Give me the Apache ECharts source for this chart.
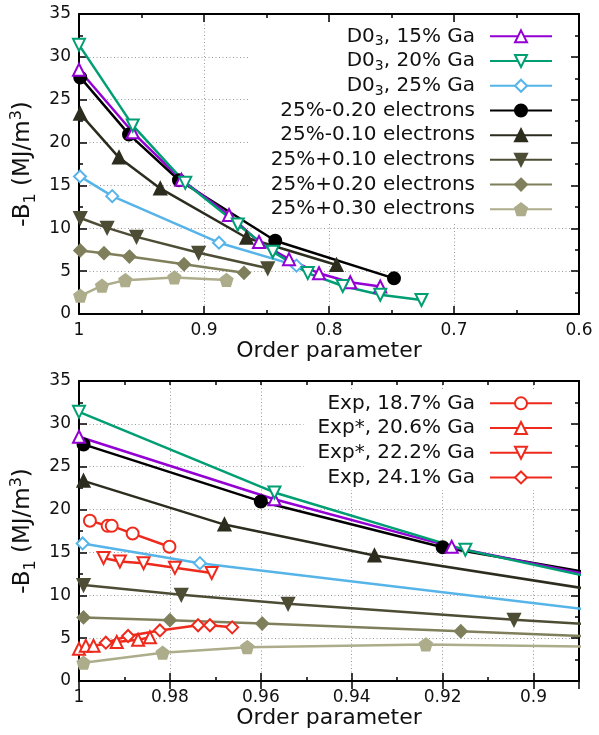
<!DOCTYPE html>
<html>
<head>
<meta charset="utf-8">
<script src="https://cdn.jsdelivr.net/npm/echarts@6/dist/echarts.min.js"></script>
<style>html,body{margin:0;padding:0;background:#fff}#c{width:599px;height:735px}</style>
</head>
<body>
<div id="c"></div>
<script>
// ---------- data ----------
const d15x = [1.0, 0.957, 0.918, 0.880, 0.856, 0.832, 0.808, 0.783, 0.759];
const d15y = [28.5, 21.2, 15.65, 11.55, 8.4, 6.4, 4.75, 3.7, 3.2];
const d20x = [1.0, 0.957, 0.915, 0.873, 0.845, 0.817, 0.789, 0.759, 0.726];
const d20y = [31.4, 22.0, 15.3, 10.45, 7.27, 4.77, 3.27, 2.25, 1.63];
const d25x = [0.9992, 0.9734, 0.888, 0.826];
const d25y = [16.05, 13.75, 8.32, 5.64];
const m20x = [0.999, 0.960, 0.920, 0.843, 0.748];
const m20y = [27.6, 20.95, 15.6, 8.55, 4.16];
const m10x = [0.999, 0.968, 0.935, 0.866, 0.794];
const m10y = [23.35, 18.25, 14.65, 8.9, 5.72];
const p10x = [0.999, 0.9775, 0.954, 0.9043, 0.849];
const p10y = [11.2, 10.05, 9.0, 7.15, 5.33];
const p20x = [0.999, 0.980, 0.9597, 0.916, 0.868];
const p20y = [7.42, 7.1, 6.7, 5.8, 4.8];
const p30x = [0.999, 0.9816, 0.963, 0.9237, 0.882];
const p30y = [2.12, 3.3, 3.95, 4.27, 3.97];
const e187x = [0.9976, 0.9937, 0.9928, 0.9882, 0.9801];
const e187y = [18.7, 18.1, 18.1, 17.2, 15.66];
const e206x = [1.0, 0.9985, 0.9968, 0.9917, 0.987, 0.9844];
const e206y = [3.75, 4.1, 4.1, 4.55, 4.8, 5.1];
const e222x = [0.9946, 0.991, 0.9858, 0.9789, 0.9708];
const e222y = [14.35, 13.95, 13.75, 13.2, 12.6];
const e241x = [0.9941, 0.9892, 0.9822, 0.9738, 0.9712, 0.9663];
const e241y = [4.47, 5.25, 5.9, 6.5, 6.5, 6.26];

const topLegendNames = ['D03, 15% Ga', 'D03, 20% Ga', 'D03, 25% Ga', '25%-0.20 electrons',
  '25%-0.10 electrons', '25%+0.10 electrons', '25%+0.20 electrons', '25%+0.30 electrons'];
const botLegendNames = ['Exp, 18.7% Ga', 'Exp*, 20.6% Ga', 'Exp*, 22.2% Ga', 'Exp, 24.1% Ga'];

// ---------- styles ----------
const FONT = 'DejaVu Sans';
const PENT = 'path://M0,-10 L9.51,-3.09 L5.88,8.09 L-5.88,8.09 L-9.51,-3.09 Z';
const RED = '#ee2a1c';
const styles = {
  'D03, 15% Ga': {color: '#9400d3', symbol: 'emptyTriangle', rot: 0},
  'D03, 20% Ga': {color: '#009e73', symbol: 'emptyTriangle', rot: 180},
  'D03, 25% Ga': {color: '#56b4e9', symbol: 'emptyDiamond', rot: 0},
  '25%-0.20 electrons': {color: '#000000', symbol: 'circle', rot: 0},
  '25%-0.10 electrons': {color: '#2d2d1f', symbol: 'triangle', rot: 0},
  '25%+0.10 electrons': {color: '#4d4d35', symbol: 'triangle', rot: 180},
  '25%+0.20 electrons': {color: '#7f7f5c', symbol: 'diamond', rot: 0},
  '25%+0.30 electrons': {color: '#adad8c', symbol: PENT, rot: 0},
  'Exp, 18.7% Ga': {color: RED, symbol: 'emptyCircle', rot: 0},
  'Exp*, 20.6% Ga': {color: RED, symbol: 'emptyTriangle', rot: 0},
  'Exp*, 22.2% Ga': {color: RED, symbol: 'emptyTriangle', rot: 180},
  'Exp, 24.1% Ga': {color: RED, symbol: 'emptyDiamond', rot: 0}
};

function mk(name, xs, ys, g) {
  const s = styles[name];
  return {
    type: 'line', name: name,
    xAxisIndex: g === 0 ? 0 : 2, yAxisIndex: g === 0 ? 0 : 2,
    data: xs.map((x, i) => [x, ys[i]]),
    symbol: s.symbol, symbolRotate: s.rot, symbolSize: 12,
    lineStyle: {color: s.color, width: 2.5},
    itemStyle: {color: s.color, borderColor: s.color, borderWidth: 2},
    clip: true, animation: false, z: 2
  };
}

const topSets = [
  ['25%-0.20 electrons', m20x, m20y], ['25%-0.10 electrons', m10x, m10y],
  ['25%+0.10 electrons', p10x, p10y], ['25%+0.20 electrons', p20x, p20y],
  ['25%+0.30 electrons', p30x, p30y],
  ['D03, 25% Ga', d25x, d25y], ['D03, 15% Ga', d15x, d15y], ['D03, 20% Ga', d20x, d20y]
];
const expSets = [
  ['Exp, 18.7% Ga', e187x, e187y], ['Exp*, 20.6% Ga', e206x, e206y],
  ['Exp*, 22.2% Ga', e222x, e222y], ['Exp, 24.1% Ga', e241x, e241y]
];
const series = [];
topSets.forEach(s => series.push(mk(s[0], s[1], s[2], 0)));
topSets.forEach(s => series.push(mk(s[0], s[1], s[2], 1)));
expSets.forEach(s => series.push(mk(s[0], s[1], s[2], 1)));

const black = '#000';
const splitDots = {show: true, lineStyle: {color: '#9a9a9a', width: 1, type: [1, 2.5]}};
const labelStyle = {color: '#111', fontFamily: FONT, fontSize: 17};
const nameStyle = {color: '#111', fontFamily: FONT, fontSize: 22};
function frameLine(show) { return {show: show, onZero: false, lineStyle: {color: black, width: 2}}; }
function ticks(len, show) { return {show: show !== false, inside: true, length: len, lineStyle: {color: black, width: 1.5}}; }
const minor = {show: true, splitNumber: 2, length: 4, lineStyle: {color: black, width: 1.5}};

const xAxes = [
  {gridIndex: 0, type: 'value', position: 'bottom', inverse: true, min: 0.6, max: 1, interval: 0.1,
   axisLine: frameLine(true), axisTick: ticks(8), minorTick: minor,
   axisLabel: Object.assign({margin: 8}, labelStyle), splitLine: splitDots,
   name: 'Order parameter', nameLocation: 'middle', nameGap: 17, nameTextStyle: nameStyle},
  {gridIndex: 0, type: 'value', position: 'top', inverse: true, min: 0.6, max: 1, interval: 0.1,
   axisLine: frameLine(true), axisTick: ticks(8), minorTick: minor,
   axisLabel: {show: false}, splitLine: {show: false}},
  {gridIndex: 1, type: 'value', position: 'bottom', inverse: true, min: 0.89, max: 1, interval: 0.01,
   axisLine: frameLine(true), axisTick: ticks(4),
   axisLabel: Object.assign({margin: 8, formatter: function (v) {
     const k = Math.round(v * 100);
     if (k % 2 !== 0) return '';
     return String(+v.toFixed(2));
   }}, labelStyle),
   splitLine: {show: false},
   name: 'Order parameter', nameLocation: 'middle', nameGap: 17, nameTextStyle: nameStyle},
  {gridIndex: 1, type: 'value', position: 'bottom', inverse: true, min: 0.89, max: 1, splitNumber: 5,
   axisLine: {show: false}, axisTick: ticks(8), axisLabel: {show: false}, splitLine: splitDots},
  {gridIndex: 1, type: 'value', position: 'top', inverse: true, min: 0.89, max: 1, interval: 0.01,
   axisLine: frameLine(true), axisTick: ticks(4), axisLabel: {show: false}, splitLine: {show: false}},
  {gridIndex: 1, type: 'value', position: 'top', inverse: true, min: 0.89, max: 1, splitNumber: 5,
   axisLine: {show: false}, axisTick: ticks(8), axisLabel: {show: false}, splitLine: {show: false}}
];

const yName = '-B{sub|1} (MJ/m{sup|3})';
const yNameStyle = {color: '#111', fontFamily: FONT, fontSize: 23, lineHeight: 30, rich: {
  sub: {fontFamily: FONT, fontSize: 16, verticalAlign: 'bottom', lineHeight: 30, color: '#111'},
  sup: {fontFamily: FONT, fontSize: 16, verticalAlign: 'top', lineHeight: 30, color: '#111'}
}};
function yMain(g) {
  return {gridIndex: g, type: 'value', position: 'left', min: 0, max: 35, interval: 5,
    axisLine: frameLine(true), axisTick: ticks(8), minorTick: minor,
    axisLabel: Object.assign({margin: 8}, labelStyle), splitLine: splitDots,
    name: yName, nameLocation: 'middle', nameGap: 36, nameTextStyle: yNameStyle};
}
function yMirror(g) {
  return {gridIndex: g, type: 'value', position: 'right', min: 0, max: 35, interval: 5,
    axisLine: frameLine(true), axisTick: ticks(8), minorTick: minor,
    axisLabel: {show: false}, splitLine: {show: false}};
}

const legendRich = {
  sub: {fontFamily: FONT, fontSize: 14, verticalAlign: 'bottom', lineHeight: 24.7, color: '#111'},
  n: {fontFamily: FONT, fontSize: 20, lineHeight: 24.7, color: '#111'}
};
function legendFmt(name) {
  if (name.indexOf('D03') === 0) return '{n|D0}{sub|3}{n|' + name.slice(3) + '}';
  return '{n|' + name + '}';
}
function mkLegend(names, top, right, padding) {
  return {
    data: names, orient: 'vertical', align: 'right', top: top, right: right,
    padding: padding, itemGap: 0, itemWidth: 62, itemHeight: 15,
    backgroundColor: '#fff', selectedMode: false, formatter: legendFmt,
    textStyle: {fontFamily: FONT, fontSize: 20, lineHeight: 24.7, color: '#111',
      padding: [0, 10, 0, 0], rich: legendRich}
  };
}

const option = {
  animation: false,
  backgroundColor: '#fff',
  grid: [
    {left: 79, top: 14, width: 500, height: 300},
    {left: 79, top: 381, width: 500, height: 300}
  ],
  xAxis: xAxes,
  yAxis: [yMain(0), yMirror(0), yMain(1), yMirror(1)],
  legend: [
    mkLegend(topLegendNames, 22, 29, [2, 17, 1, 22]),
    mkLegend(botLegendNames, 389, 29, [2, 17, 0, 14])
  ],
  series: series
};

const chart = echarts.init(document.getElementById('c'), null, {renderer: 'canvas'});
chart.setOption(option);
</script>
</body>
</html>
